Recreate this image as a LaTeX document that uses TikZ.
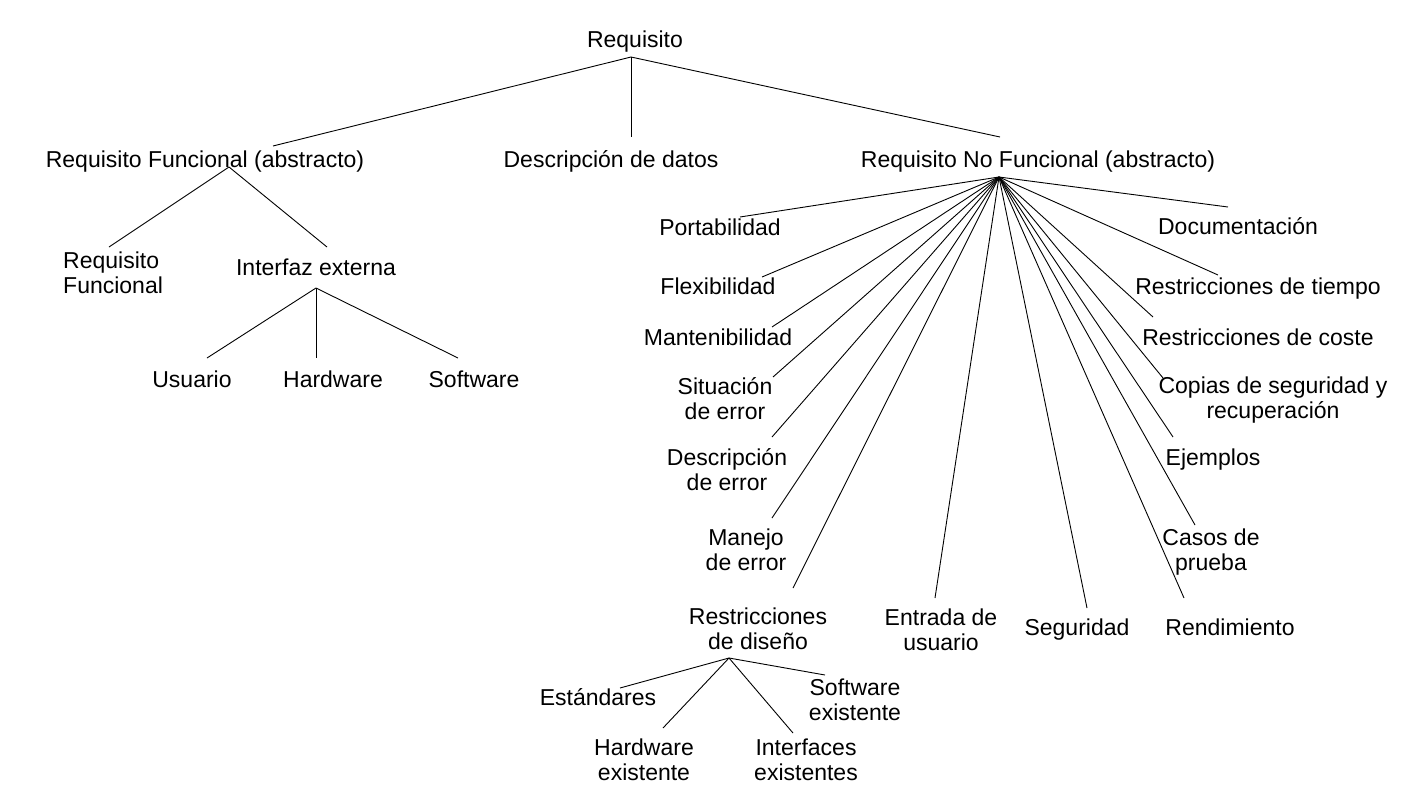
\documentclass[tikz,border=0pt]{standalone}
\usepackage{fontspec}
\setmainfont{Liberation Sans}
\begin{document}
\begin{tikzpicture}[x=1pt,y=-1pt,
  lbl/.style={inner sep=0pt, anchor=base, align=center, font=\fontsize{23}{25}\selectfont},
  lblL/.style={inner sep=0pt, anchor=base west, align=left, font=\fontsize{23}{25}\selectfont},
  edge/.style={draw=black, line width=0.9pt}]
\useasboundingbox (0,0) rectangle (1401,796);
% labels (for two-line labels the y value is the baseline of the last line)
\node[lbl] (req) at (635,47) {Requisito};
\node[lbl] (rfa) at (205,167) {Requisito Funcional (abstracto)};
\node[lbl] (dd) at (611,167) {Descripción de datos};
\node[lbl] (nf) at (1038,167) {Requisito No Funcional (abstracto)};
\node[lblL] (rf) at (63,293) {Requisito\\Funcional};
\node[lbl] (ie) at (316,275) {Interfaz externa};
\node[lbl] (usu) at (192,387) {Usuario};
\node[lbl] (hw) at (333,387) {Hardware};
\node[lbl] (sw) at (474,387) {Software};
\node[lbl] (port) at (720,235) {Portabilidad};
\node[lbl] (flex) at (718,294) {Flexibilidad};
\node[lbl] (mant) at (718,345) {Mantenibilidad};
\node[lbl] (sit) at (725,419) {Situación\\de error};
\node[lbl] (desc) at (727,490) {Descripción\\de error};
\node[lbl] (man) at (746,570) {Manejo\\de error};
\node[lbl] (rd) at (758,649) {Restricciones\\de diseño};
\node[lbl] (ent) at (941,650) {Entrada de\\usuario};
\node[lbl] (seg) at (1077,635) {Seguridad};
\node[lbl] (rend) at (1230,635) {Rendimiento};
\node[lbl] (casos) at (1211,570) {Casos de\\prueba};
\node[lbl] (ejem) at (1213,465) {Ejemplos};
\node[lbl] (cop) at (1273,418) {Copias de seguridad y\\recuperación};
\node[lbl] (coste) at (1258,345) {Restricciones de coste};
\node[lbl] (tiempo) at (1258,294) {Restricciones de tiempo};
\node[lbl] (doc) at (1238,234) {Documentación};
\node[lbl] (est) at (598,705) {Estándares};
\node[lbl] (hwe) at (644,780) {Hardware\\existente};
\node[lbl] (ife) at (806,780) {Interfaces\\existentes};
\node[lbl] (swe) at (855,720) {Software\\existente};
% hubs and connector ends
\coordinate (reqH) at (631,57);
\coordinate (rfaT) at (273,146);
\coordinate (ddT) at (631,137);
\coordinate (nfT) at (1000,137);
\coordinate (rfaH) at (229,167);
\coordinate (rfT) at (109,247);
\coordinate (ieT) at (327,247);
\coordinate (ieH) at (316,288);
\coordinate (usuT) at (207,358);
\coordinate (hwT) at (316,358);
\coordinate (swT) at (458,358);
\coordinate (nfH) at (999,177);
\coordinate (portT) at (740,217);
\coordinate (flexT) at (762,277);
\coordinate (mantT) at (772,327);
\coordinate (sitT) at (773,377);
\coordinate (descT) at (772,437);
\coordinate (manT) at (772,518);
\coordinate (rdT) at (793,588);
\coordinate (entT) at (935,598);
\coordinate (segT) at (1087,608);
\coordinate (rendT) at (1184,598);
\coordinate (casosT) at (1195,525);
\coordinate (ejemT) at (1173,437);
\coordinate (copT) at (1163,378);
\coordinate (costeT) at (1153,317);
\coordinate (tiempoT) at (1218,275);
\coordinate (docT) at (1228,207);
\coordinate (rdH) at (729,658);
\coordinate (estT) at (620,688);
\coordinate (hweT) at (663,728);
\coordinate (ifeT) at (793,733);
\coordinate (sweT) at (825,675);
% connectors
\foreach \t in {rfaT,ddT,nfT} \draw[edge] (reqH) -- (\t);
\foreach \t in {rfT,ieT} \draw[edge] (rfaH) -- (\t);
\foreach \t in {usuT,hwT,swT} \draw[edge] (ieH) -- (\t);
\foreach \t in {portT,flexT,mantT,sitT,descT,manT,rdT,entT,segT,rendT,casosT,ejemT,copT,costeT,tiempoT,docT} \draw[edge] (nfH) -- (\t);
\foreach \t in {estT,hweT,ifeT,sweT} \draw[edge] (rdH) -- (\t);
\end{tikzpicture}
\end{document}
